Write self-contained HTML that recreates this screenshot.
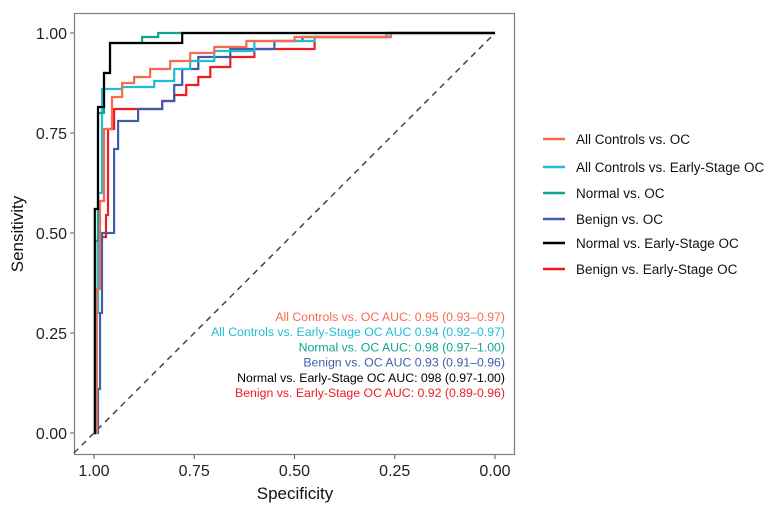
<!DOCTYPE html>
<html><head><meta charset="utf-8"><style>
body{margin:0;background:#fff;font-family:"Liberation Sans",Arial,sans-serif}
svg{display:block}
</style></head><body>
<svg id="c" width="773" height="506" xmlns="http://www.w3.org/2000/svg"></svg>
<script>
const xTicks=[1.00,0.75,0.50,0.25,0.00];
const xTickLabels=["1.00","0.75","0.50","0.25","0.00"];
const yTicks=[0,0.25,0.5,0.75,1];
const yTickLabels=["0.00","0.25","0.50","0.75","1.00"];
const seriesNames=["All Controls vs. OC","All Controls vs. Early-Stage OC","Normal vs. OC","Benign vs. OC","Normal vs. Early-Stage OC","Benign vs. Early-Stage OC"];
const seriesColors=["#f8694f","#22bcd4","#10a58c","#3d5fa8","#000000","#ee1c24"];
const aucLabels=["All Controls vs. OC AUC: 0.95 (0.93–0.97)","All Controls vs. Early-Stage OC AUC 0.94 (0.92–0.97)","Normal vs. OC AUC: 0.98 (0.97–1.00)","Benign vs. OC AUC 0.93 (0.91–0.96)","Normal vs. Early-Stage OC AUC: 098 (0.97-1.00)","Benign vs. Early-Stage OC AUC: 0.92 (0.89-0.96)"];
const spec0=[1,0.997,0.993,0.993,0.985,0.985,0.975,0.975,0.955,0.955,0.93,0.93,0.9,0.9,0.86,0.86,0.81,0.81,0.76,0.76,0.7,0.7,0.62,0.62,0.5,0.5,0.26,0.26,0];
const sens0=[0,0,0,0.36,0.36,0.58,0.58,0.76,0.76,0.84,0.84,0.875,0.875,0.89,0.89,0.91,0.91,0.93,0.93,0.95,0.95,0.965,0.965,0.98,0.98,0.99,0.99,1,1];
const spec1=[1,0.997,0.997,0.99,0.99,0.98,0.98,0.93,0.93,0.85,0.85,0.8,0.8,0.76,0.76,0.7,0.7,0.6,0.6,0.45,0.45,0.27,0.27,0];
const sens1=[0,0,0.3,0.3,0.6,0.6,0.86,0.86,0.865,0.865,0.88,0.88,0.91,0.91,0.93,0.93,0.955,0.955,0.98,0.98,0.99,0.99,1,1];
const spec2=[1,0.997,0.997,0.99,0.99,0.975,0.975,0.96,0.96,0.88,0.88,0.84,0.84,0];
const sens2=[0,0,0.48,0.48,0.8,0.8,0.9,0.9,0.975,0.975,0.99,0.99,1,1];
const spec3=[1,0.99,0.99,0.985,0.985,0.98,0.98,0.95,0.95,0.94,0.94,0.89,0.89,0.83,0.83,0.8,0.8,0.78,0.78,0.74,0.74,0.66,0.66,0.55,0.55,0.48,0.48,0.26,0.26,0];
const sens3=[0,0,0.11,0.11,0.3,0.3,0.5,0.5,0.71,0.71,0.78,0.78,0.81,0.81,0.83,0.83,0.87,0.87,0.91,0.91,0.94,0.94,0.96,0.96,0.98,0.98,0.99,0.99,1,1];
const spec4=[1,0.998,0.998,0.99,0.99,0.975,0.975,0.96,0.96,0.78,0.78,0];
const sens4=[0,0,0.56,0.56,0.815,0.815,0.9,0.9,0.975,0.975,1,1];
const spec5=[1,0.997,0.997,0.99,0.99,0.97,0.97,0.965,0.965,0.95,0.95,0.83,0.83,0.8,0.8,0.77,0.77,0.74,0.74,0.71,0.71,0.66,0.66,0.6,0.6,0.45,0.45,0.27,0.27,0];
const sens5=[0,0,0.31,0.31,0.49,0.49,0.545,0.545,0.76,0.76,0.81,0.81,0.83,0.83,0.845,0.845,0.87,0.87,0.89,0.89,0.915,0.915,0.94,0.94,0.96,0.96,0.99,0.99,1,1];
const specs=[spec0,spec1,spec2,spec3,spec4,spec5];
const senss=[sens0,sens1,sens2,sens3,sens4,sens5];

const NS="http://www.w3.org/2000/svg";
const svg=document.getElementById('c');
const X0=94,X1=495,Y0=433,Y1=33;
const sx=s=>X0+(1-s)*(X1-X0);
const sy=v=>Y0+v*(Y1-Y0);
function mk(t,a,p){const e=document.createElementNS(NS,t);for(const k in a)e.setAttribute(k,a[k]);(p||svg).appendChild(e);return e;}

const frame=mk('rect',{x:74.5,y:13.5,width:440,height:441,fill:'none',stroke:'#7f7f7f','stroke-width':1.2});



const diag=mk('line',{x1:sx(1.05),y1:sy(-0.05),x2:sx(0),y2:sy(1),stroke:'#444','stroke-width':1.5,'stroke-dasharray':'6,5'});



xTicks.forEach((t,i)=>{
  const l=mk('line',{x1:sx(t),x2:sx(t),y1:455,y2:459,stroke:'#555','stroke-width':1});
  
  
  const tx=mk('text',{x:sx(t),y:476,'text-anchor':'middle','font-size':16,fill:'#222'});
  tx.textContent=xTickLabels[i];
  
  
});
yTicks.forEach((t,i)=>{
  const l=mk('line',{x1:70,x2:74,y1:sy(t),y2:sy(t),stroke:'#555','stroke-width':1});
  
  
  const tx=mk('text',{x:67,y:sy(t)+6,'text-anchor':'end','font-size':16,fill:'#222'});
  tx.textContent=yTickLabels[i];
  
  
});
const xt=mk('text',{x:295,y:499,'text-anchor':'middle','font-size':17,fill:'#111'});
xt.textContent='Specificity';


const yt=mk('text',{x:0,y:0,transform:'translate(23,234) rotate(-90)','text-anchor':'middle','font-size':17,fill:'#111'});
yt.textContent='Sensitivity';



[5,3,1,0,2,4].forEach(i=>{
  const pts=specs[i].map((s,j)=>sx(s).toFixed(1)+','+sy(senss[i][j]).toFixed(1)).join(' ');
  const pl=mk('polyline',{points:pts,fill:'none',stroke:seriesColors[i],'stroke-width':2.2});
  
  
});

aucLabels.forEach((t,i)=>{
  const tx=mk('text',{x:505,y:321+i*15.2,'text-anchor':'end','font-size':12.3,fill:seriesColors[i]});
  tx.textContent=t;
  
  
});

const legY=[139,167,193,219,243,269];
seriesNames.forEach((n,i)=>{
  const g=mk('g',{});
  
  
  mk('line',{x1:543,x2:565,y1:legY[i],y2:legY[i],stroke:seriesColors[i],'stroke-width':2.5},g);
  const tx=mk('text',{x:576,y:legY[i]+5,'font-size':13.5,fill:'#111'},g);
  tx.textContent=n;
});
</script>
</body></html>
